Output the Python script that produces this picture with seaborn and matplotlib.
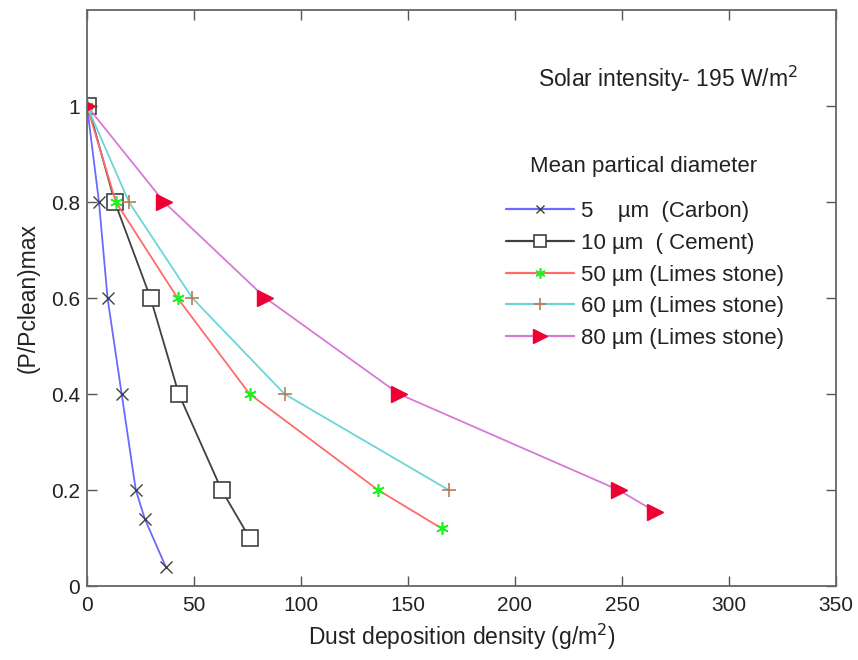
import matplotlib
matplotlib.use("Agg")
import matplotlib.pyplot as plt
import seaborn as sns
import pandas as pd
from matplotlib.lines import Line2D

# Data
y_carbon = [1.0, 0.8, 0.6, 0.4, 0.2, 0.14, 0.04]
x_carbon = [0.0, 5.6, 9.6, 16.2, 22.8, 27.0, 36.8]

y_cement = [1.0, 0.8, 0.6, 0.4, 0.2, 0.1]
x_cement = [0.5, 13.0, 29.7, 42.9, 62.9, 76.0]

y_50 = [1.0, 0.8, 0.6, 0.4, 0.2, 0.12]
x_50 = [0.0, 13.5, 42.3, 76.0, 136.0, 165.7]

y_60 = [1.0, 0.8, 0.6, 0.4, 0.2]
x_60 = [0.0, 19.6, 49.2, 92.3, 169.0]

y_80 = [1.0, 0.8, 0.6, 0.4, 0.2, 0.155]
x_80 = [0.0, 36.0, 83.4, 145.8, 248.4, 265.5]

labels = ["5    \u00b5m  (Carbon)", "10 \u00b5m  ( Cement)", "50 \u00b5m (Limes stone)",
          "60 \u00b5m (Limes stone)", "80 \u00b5m (Limes stone)"]
x_ticks = [0, 50, 100, 150, 200, 250, 300, 350]
y_ticks = [0, 0.2, 0.4, 0.6, 0.8, 1]
y_tick_labels = ["0", "0.2", "0.4", "0.6", "0.8", "1"]

sns.set_style("white")
plt.rcParams['font.family'] = ['Liberation Sans', 'DejaVu Sans']

fig = plt.figure(figsize=(8.58, 6.6), dpi=100)
ax = fig.add_axes([87 / 858, 74 / 660, 749 / 858, 576 / 660])

styles = [
    dict(color="#6a6aff", marker="x", mec="#404040", mfc="none", ms=8, mew=1.0),
    dict(color="#404040", marker="s", mec="#404040", mfc="white", ms=11, mew=1.2),
    dict(color="#ff6b6b", marker=(6, 2, 0), mec="#22ee22", mfc="#22ee22", ms=9, mew=1.2),
    dict(color="#6cd6d6", marker="+", mec="#b87a5a", mfc="none", ms=10, mew=1.2),
    dict(color="#d77ad7", marker=">", mec="#ee0033", mfc="#ee0033", ms=12, mew=1.0),
]
series = [(x_carbon, y_carbon), (x_cement, y_cement), (x_50, y_50), (x_60, y_60), (x_80, y_80)]

handles = []
for (xs, ys), st, lab in zip(series, styles, labels):
    df = pd.DataFrame({"x": xs, "y": ys})
    sns.lineplot(data=df, x="x", y="y", ax=ax, sort=False, estimator=None,
                 color=st["color"], lw=1.3, marker=st["marker"], markersize=st["ms"],
                 markeredgecolor=st["mec"], markerfacecolor=st["mfc"], markeredgewidth=st["mew"])
    handles.append(Line2D([], [], color=st["color"], lw=1.6, marker=st["marker"], ms=st["ms"] * 0.8,
                          mec=st["mec"], mfc=st["mfc"], mew=st["mew"], label=lab))

ax.set_xlim(0, 350)
ax.set_ylim(0, 1.2)
ax.set_xticks(x_ticks)
ax.set_yticks(y_ticks)
ax.set_xticklabels([str(v) for v in x_ticks])
ax.set_yticklabels(y_tick_labels)
ax.tick_params(direction="in", length=7, width=1, colors="#555555", labelcolor="#222222",
               labelsize=15, top=True, right=True, bottom=True, left=True)
ax.tick_params(axis="x", pad=7)
ax.tick_params(axis="y", pad=5)
for s in ax.spines.values():
    s.set_color("#666666")
    s.set_linewidth(1.3)

ax.set_xlabel("Dust deposition density (g/m$^2$)", fontsize=16.5, color="#222222", labelpad=5)
ax.set_ylabel("(P/Pclean)max", fontsize=16.5, color="#222222", labelpad=8)

ax.text(0.776, 0.88, "Solar intensity- 195 W/m$^2$", transform=ax.transAxes,
        ha="center", va="center", fontsize=16.5, color="#222222")
ax.text(0.743, 0.728, "Mean partical diameter", transform=ax.transAxes,
        ha="center", va="center", fontsize=16, color="#222222")

leg = ax.legend(handles=handles, loc="upper left", bbox_to_anchor=(0.559, 0.668),
                frameon=False, fontsize=16, handlelength=3.06, labelspacing=0.48,
                handletextpad=0.32, borderaxespad=0, borderpad=0)
for t in leg.get_texts():
    t.set_color("#222222")

sns.despine(ax=ax, top=False, right=False)
fig.savefig("out.png", dpi=100)
